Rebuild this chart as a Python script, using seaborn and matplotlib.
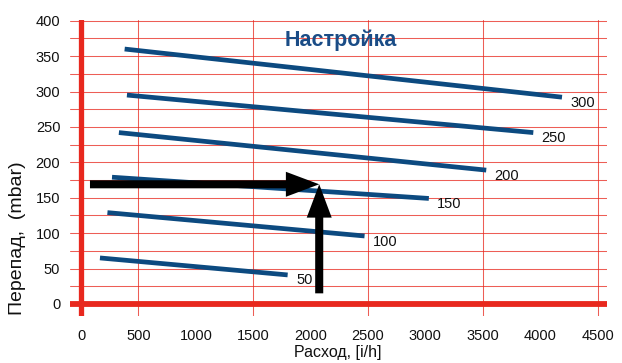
import pandas as pd
import matplotlib.pyplot as plt
import seaborn as sns

# spring settings (mbar) and the straight characteristic of each one
settings = [50, 100, 150, 200, 250, 300]
flow_start = [165, 230, 270, 330, 400, 380]
flow_end = [1800, 2470, 3030, 3530, 3940, 4190]
dp_start = [65, 129, 179, 242, 295, 360]
dp_end = [41, 96, 149, 189, 242, 292]

x_ticks = [0, 500, 1000, 1500, 2000, 2500, 3000, 3500, 4000, 4500]
y_ticks = [0, 50, 100, 150, 200, 250, 300, 350, 400]

# reading example: flow -> setting
arrow_tail_flow = 78
arrow_flow = 2075
arrow_dp = 169
arrow_tail_dp = 15

RED = "#e8281e"
NAVY = "#0c4a80"

rows = []
for s, x0, x1, y0, y1 in zip(settings, flow_start, flow_end, dp_start, dp_end):
    rows.append({"setting": s, "flow": x0, "dp": y0})
    rows.append({"setting": s, "flow": x1, "dp": y1})
df = pd.DataFrame(rows)

sns.set_theme(style="white")
plt.rcParams["font.family"] = ["Liberation Sans", "DejaVu Sans"]

fig = plt.figure(figsize=(6.22, 3.63), dpi=100)
ax = fig.add_axes([70 / 622, 47 / 363, 537 / 622, 296 / 363])

# red grid: every 25 mbar, vertical lines at 500, 1500, ...
for y in range(0, 401, 25):
    ax.axhline(y, color=RED, lw=0.75, alpha=0.75, zorder=1)
for x in range(500, 4501, 1000):
    ax.axvline(x, color=RED, lw=0.75, alpha=0.75, zorder=1)
ax.axhline(0, color=RED, lw=4.2, zorder=2)
ax.axvline(0, color=RED, lw=3.8, zorder=2)

sns.lineplot(data=df, x="flow", y="dp", units="setting", estimator=None,
             sort=False, color=NAVY, lw=3.4, solid_capstyle="butt", ax=ax, zorder=3)

for s, x1, y1 in zip(settings, flow_end, dp_end):
    ax.annotate(str(s), xy=(x1, y1), xytext=(6, -4), textcoords="offset points",
                ha="left", va="center", fontsize=10.5, color="#111111")

arrow_style = "simple,tail_width=0.29,head_width=0.9,head_length=1.2"
ax.annotate("", xy=(arrow_flow, arrow_dp), xytext=(arrow_tail_flow, arrow_dp),
            arrowprops=dict(arrowstyle=arrow_style, mutation_scale=20,
                            color="black", lw=0, shrinkA=0, shrinkB=0), zorder=4)
ax.annotate("", xy=(arrow_flow, arrow_dp), xytext=(arrow_flow, arrow_tail_dp),
            arrowprops=dict(arrowstyle=arrow_style, mutation_scale=20,
                            color="black", lw=0, shrinkA=0, shrinkB=0), zorder=4)

ax.text(2260, 373, "Настройка", ha="center", va="center", fontsize=15.5,
        fontweight="bold", color="#1a4c86", zorder=5)

ax.set_xlim(-96, 4582)
ax.set_ylim(-17, 401)
ax.set_xticks(x_ticks)
ax.set_yticks(y_ticks)
ax.tick_params(axis="both", length=0, labelsize=10.5, colors="#111111")
ax.tick_params(axis="x", pad=9)
ax.tick_params(axis="y", pad=7)
ax.grid(False)
for sp in ax.spines.values():
    sp.set_visible(False)

ax.set_xlabel("Расход, [i/h]", fontsize=11.5, color="#111111", va="center")
ax.xaxis.set_label_coords(0.499, -0.125)
ax.set_ylabel("Перепад,  (mbar)", fontsize=14, color="#111111", va="center")
ax.yaxis.set_label_coords(-0.097, 0.262)

fig.savefig("out.png", dpi=100)
plt.close(fig)
